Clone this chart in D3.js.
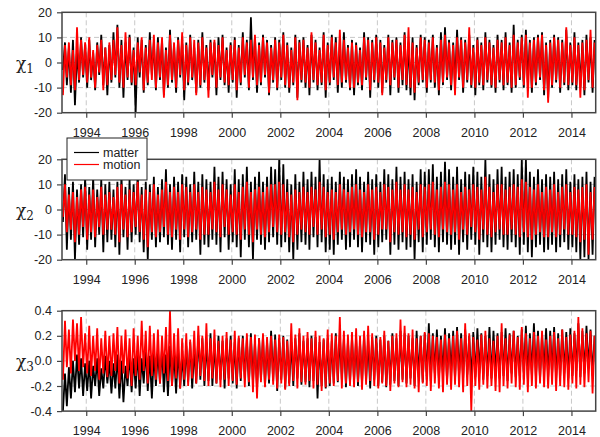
<!DOCTYPE html>
<html lang="en">
<head>
    <meta charset="UTF-8">
    <title>Matter and motion terms</title>
    <script src="https://d3js.org/d3.v7.min.js"></script>
    <style>
        body { margin: 0; background: white; }
        .tick-label { font: 12.5px "Liberation Sans", Arial, sans-serif; fill: #222; }
        .legend text { font: 12.5px "Liberation Sans", Arial, sans-serif; fill: #222; }
        .ylab { font-family: "DejaVu Serif", "Liberation Serif", serif; fill: #222; }
        .grid { stroke: #c8c8c8; stroke-width: 1; stroke-dasharray: 5,3; }
        .frame { fill: none; stroke: #444; stroke-width: 1.5; }
    </style>
</head>
<body>
<svg width="600" height="437"></svg>
<script>
    // monthly values, Jan 1993 .. Dec 2014 (one row per year)
    const chi1Matter = [
        -3, 8, -9, 6, -12, 9, -17, 5, -8, 10, -6, 7,
        -10, 9, -7, 4, -11, 8, -5, 11, -9, 6, -13, 7,
        -8, 12, -6, 15, -10, 9, -14, 8, -7, 11, -9, 6,
        -20, 10, -6, 9, -12, 7, -9, 12, -5, 8, -11, 10,
        -7, 9, -13, 6, -10, 13, -8, 7, -12, 10, -6, 9,
        -15, 8, -9, 11, -7, 6, -12, 9, -10, 12, -8, 7,
        -11, 9, -6, 8, -13, 10, -7, 11, -9, 6, -12, 8,
        -8, 10, -14, 7, -9, 12, -6, 9, -11, 18, -7, 10,
        -12, 8, -9, 11, -6, 9, -13, 7, -8, 10, -11, 9,
        -7, 12, -10, 8, -12, 6, -9, 11, -14, 9, -8, 10,
        -10, 7, -13, 11, -8, 9, -11, 6, -9, 12, -14, 8,
        -9, 11, -7, 10, -12, 8, -10, 12, -8, 7, -11, 9,
        -13, 8, -9, 6, -11, 12, -7, 10, -14, 9, -8, 11,
        -10, 9, -12, 7, -8, 11, -13, 9, -7, 10, -12, 8,
        -9, 12, -11, 8, -13, 10, -15, 7, -9, 11, -8, 10,
        -12, 9, -8, 11, -10, 7, -13, 12, -9, 14, -7, 9,
        -11, 8, -9, 13, -7, 10, -12, 9, -8, 11, -10, 7,
        -13, 10, -9, 8, -11, 12, -8, 9, -10, 7, -12, 11,
        -8, 9, -11, 12, -9, 8, -12, 15, -10, 9, -7, 11,
        -10, 13, -8, 9, -12, 10, -9, 11, -7, 12, -13, 8,
        -14, 9, -10, 11, -8, 10, -12, 9, -9, 13, -11, 8,
        -9, 12, -11, 8, -10, 9, -13, 11, -8, 10, -12, 9
    ];
    const chi1Motion = [
        -13, 7, -6, 8, -9, 5, -11, 14, -7, 9, -5, 8,
        -8, 10, -6, 5, -10, 7, -4, 9, -11, 6, -9, 8,
        -7, 9, -5, 14, -8, 7, -10, 12, -6, 10, -8, 5,
        -9, 8, -4, 10, -11, 6, -8, 9, -7, 11, -10, 8,
        -6, 10, -14, 5, -9, 11, -7, 8, -10, 9, -5, 12,
        -11, 7, -8, 10, -6, 9, -13, 8, -9, 10, -7, 6,
        -14, 8, -5, 9, -10, 7, -6, 10, -8, 5, -9, 7,
        -7, 9, -11, 6, -8, 10, -5, 8, -10, 9, -6, 11,
        -9, 7, -8, 10, -5, 8, -12, 6, -7, 9, -10, 8,
        -6, 11, -9, 7, -10, 5, -8, 10, -15, 8, -7, 9,
        -8, 6, -10, 12, -7, 8, -9, 5, -8, 11, -11, 7,
        -8, 10, -6, 8, -9, 13, -8, 9, -7, 6, -10, 8,
        -10, 7, -8, 5, -9, 10, -6, 9, -11, 8, -7, 10,
        -8, 8, -13, 6, -7, 10, -9, 8, -6, 9, -10, 7,
        -7, 11, -9, 14, -10, 8, -12, 6, -8, 10, -7, 9,
        -10, 8, -7, 10, -8, 6, -11, 9, -8, 11, -6, 8,
        -9, 7, -13, 10, -6, 9, -10, 8, -7, 14, -9, 6,
        -10, 9, -8, 7, -9, 10, -7, 8, -9, 6, -10, 9,
        -7, 8, -9, 10, -8, 7, -10, 11, -9, 8, -6, 10,
        -9, 11, -14, 8, -10, 9, -8, 10, -6, 11, -11, 7,
        -16, 8, -9, 10, -7, 9, -10, 8, -8, 14, -9, 7,
        -8, 10, -9, 7, -14, 8, -11, 9, -7, 13, -10, 8
    ];
    const chi2Matter = [
        -5, 14, -16, 9, -12, 11, -20, 8, -14, 10, -11, 13,
        -16, 9, -12, 13, -15, 8, -10, 12, -17, 10, -13, 11,
        -12, 8, -15, 11, -18, 14, -11, 9, -16, 12, -13, 10,
        -10, 15, -13, 9, -17, 11, -20, 10, -12, 13, -15, 9,
        -13, 12, -11, 16, -14, 10, -16, 13, -12, 11, -17, 14,
        -11, 13, -15, 10, -13, 15, -12, 11, -18, 14, -14, 12,
        -15, 11, -12, 17, -14, 13, -17, 15, -11, 12, -16, 10,
        -13, 16, -15, 12, -19, 14, -12, 17, -15, 11, -20, 13,
        -12, 15, -14, 11, -16, 13, -13, 17, -11, 16, -14, 20,
        -15, 18, -13, 12, -17, 10, -20, 14, -16, 11, -13, 15,
        -14, 12, -16, 15, -11, 13, -15, 20, -13, 14, -17, 12,
        -16, 13, -18, 11, -14, 15, -12, 13, -16, 12, -15, 14,
        -12, 16, -15, 13, -17, 11, -13, 15, -14, 12, -18, 14,
        -15, 11, -13, 16, -12, 14, -18, 12, -14, 17, -16, 13,
        -13, 15, -16, 12, -15, 14, -20, 11, -13, 16, -17, 15,
        -14, 16, -12, 18, -15, 13, -17, 15, -13, 19, -14, 16,
        -16, 13, -14, 17, -18, 12, -13, 15, -16, 14, -12, 17,
        -14, 15, -18, 13, -13, 20, -15, 14, -17, 12, -14, 16,
        -12, 17, -15, 13, -16, 15, -13, 16, -15, 14, -18, 20,
        -14, 20, -17, 15, -19, 13, -15, 16, -14, 12, -17, 14,
        -16, 13, -14, 15, -17, 12, -15, 14, -13, 16, -16, 11,
        -15, 14, -17, 12, -20, 13, -19, 15, -20, 11, -18, 13
    ];
    const chi2Motion = [
        -3, 10, -9, 6, -8, 7, -13, 5, -10, 8, -7, 9,
        -12, 6, -9, 8, -11, 5, -7, 9, -10, 6, -8, 7,
        -8, 5, -10, 9, -13, 10, -8, 6, -11, 8, -9, 7,
        -7, 11, -9, 6, -12, 8, -15, 7, -9, 10, -11, 6,
        -9, 8, -7, 11, -10, 7, -11, 9, -8, 7, -12, 10,
        -8, 9, -11, 7, -9, 10, -8, 7, -12, 9, -10, 8,
        -10, 7, -8, 11, -9, 8, -11, 10, -7, 8, -10, 6,
        -9, 10, -10, 7, -12, 9, -8, 11, -10, 7, -13, 8,
        -8, 9, -10, 7, -11, 9, -9, 10, -7, 10, -9, 11,
        -10, 10, -9, 7, -11, 6, -13, 8, -10, 7, -8, 9,
        -9, 7, -10, 9, -7, 8, -10, 11, -8, 9, -11, 7,
        -10, 8, -12, 7, -9, 10, -8, 8, -10, 7, -9, 9,
        -8, 10, -10, 8, -11, 7, -9, 10, -9, 8, -12, 9,
        -10, 7, -8, 10, -8, 9, -13, 8, -9, 11, -10, 8,
        -9, 10, -11, 8, -10, 9, -12, 7, -8, 10, -11, 9,
        -9, 10, -8, 11, -10, 8, -11, 9, -8, 11, -9, 10,
        -10, 8, -9, 10, -12, 7, -8, 9, -10, 8, -7, 10,
        -9, 9, -12, 8, -8, 13, -10, 9, -11, 7, -9, 10,
        -8, 10, -10, 8, -10, 9, -8, 10, -10, 9, -11, 12,
        -9, 11, -11, 9, -12, 8, -10, 10, -9, 7, -11, 9,
        -11, 8, -9, 10, -11, 7, -10, 9, -8, 10, -10, 7,
        -10, 9, -11, 8, -13, 9, -12, 10, -18, 7, -12, 9
    ];
    const chi3Matter = [
        -0.40, -0.10, -0.36, -0.05, -0.30, 0.00, -0.25, 0.05, -0.22, 0.02, -0.28, -0.02,
        -0.24, 0.00, -0.30, -0.04, -0.20, 0.02, -0.28, -0.06, -0.22, 0.04, -0.18, 0.00,
        -0.26, -0.02, -0.22, 0.05, -0.30, 0.00, -0.33, -0.04, -0.20, 0.06, -0.25, 0.02,
        -0.22, 0.08, -0.28, 0.02, -0.18, 0.10, -0.24, 0.04, -0.30, 0.06, -0.20, 0.08,
        -0.18, 0.10, -0.25, 0.05, -0.28, 0.12, -0.20, 0.06, -0.26, 0.10, -0.22, 0.04,
        -0.20, 0.12, -0.17, 0.15, -0.22, 0.10, -0.18, 0.20, -0.15, 0.18, -0.20, 0.15,
        -0.16, 0.22, -0.20, 0.14, -0.18, 0.20, -0.15, 0.16, -0.22, 0.18, -0.14, 0.20,
        -0.18, 0.15, -0.22, 0.18, -0.16, 0.20, -0.14, 0.17, -0.20, 0.22, -0.17, 0.15,
        -0.22, 0.18, -0.15, 0.20, -0.20, 0.16, -0.18, 0.24, -0.16, 0.21, -0.24, 0.18,
        -0.15, 0.20, -0.22, 0.17, -0.18, 0.15, -0.20, 0.18, -0.14, 0.22, -0.19, 0.16,
        -0.17, 0.18, -0.21, 0.20, -0.16, 0.19, -0.30, 0.15, -0.20, 0.17, -0.22, 0.18,
        -0.20, 0.16, -0.18, 0.22, -0.17, 0.20, -0.15, 0.18, -0.21, 0.16, -0.18, 0.19,
        -0.16, 0.18, -0.20, 0.15, -0.18, 0.21, -0.16, 0.17, -0.22, 0.19, -0.15, 0.20,
        -0.20, 0.17, -0.17, 0.20, -0.21, 0.16, -0.19, 0.22, -0.16, 0.18, -0.20, 0.24,
        -0.15, 0.22, -0.18, 0.20, -0.14, 0.18, -0.20, 0.24, -0.13, 0.20, -0.17, 0.22,
        -0.12, 0.30, -0.16, 0.22, -0.10, 0.25, -0.14, 0.20, -0.12, 0.26, -0.16, 0.22,
        -0.10, 0.24, -0.15, 0.27, -0.12, 0.22, -0.14, 0.25, -0.11, 0.20, -0.16, 0.23,
        -0.13, 0.26, -0.10, 0.22, -0.15, 0.20, -0.12, 0.27, -0.14, 0.24, -0.11, 0.22,
        -0.14, 0.23, -0.12, 0.26, -0.16, 0.22, -0.10, 0.24, -0.13, 0.20, -0.12, 0.25,
        -0.10, 0.28, -0.14, 0.22, -0.11, 0.30, -0.13, 0.24, -0.15, 0.22, -0.10, 0.26,
        -0.13, 0.24, -0.11, 0.27, -0.14, 0.22, -0.12, 0.25, -0.10, 0.23, -0.14, 0.26,
        -0.12, 0.22, -0.08, 0.30, -0.13, 0.24, -0.10, 0.28, -0.06, 0.25, -0.12, 0.20
    ];
    const chi3Motion = [
        -0.15, 0.32, -0.05, 0.25, -0.10, 0.33, 0.00, 0.30, -0.08, 0.35, -0.05, 0.22,
        -0.10, 0.28, -0.12, 0.20, -0.08, 0.26, -0.15, 0.18, -0.10, 0.24, -0.13, 0.20,
        -0.12, 0.22, -0.08, 0.27, -0.18, 0.20, -0.10, 0.25, -0.14, 0.18, -0.20, 0.26,
        -0.12, 0.20, -0.15, 0.32, -0.08, 0.24, -0.18, 0.28, -0.12, 0.22, -0.15, 0.25,
        -0.18, 0.20, -0.10, 0.27, -0.16, 0.40, -0.20, 0.22, -0.14, 0.26, -0.22, 0.18,
        -0.15, 0.22, -0.20, 0.17, -0.14, 0.24, -0.18, 0.28, -0.12, 0.20, -0.16, 0.30,
        -0.20, 0.18, -0.14, 0.25, -0.18, 0.16, -0.21, 0.20, -0.15, 0.23, -0.20, 0.17,
        -0.16, 0.24, -0.19, 0.20, -0.14, 0.18, -0.21, 0.22, -0.17, 0.19, -0.25, 0.21,
        -0.30, 0.18, -0.17, 0.22, -0.21, 0.19, -0.15, 0.20, -0.19, 0.17, -0.22, 0.21,
        -0.18, 0.19, -0.23, 0.16, -0.20, 0.30, -0.16, 0.21, -0.22, 0.26, -0.17, 0.20,
        -0.19, 0.23, -0.16, 0.18, -0.22, 0.24, -0.19, 0.20, -0.24, 0.18, -0.21, 0.25,
        -0.18, 0.22, -0.20, 0.20, -0.16, 0.35, -0.22, 0.24, -0.18, 0.21, -0.20, 0.23,
        -0.21, 0.26, -0.17, 0.20, -0.23, 0.24, -0.19, 0.28, -0.16, 0.22, -0.20, 0.18,
        -0.22, 0.19, -0.18, 0.24, -0.20, 0.16, -0.24, 0.20, -0.18, 0.22, -0.21, 0.33,
        -0.17, 0.28, -0.21, 0.22, -0.19, 0.25, -0.22, 0.18, -0.25, 0.20, -0.18, 0.23,
        -0.20, 0.22, -0.24, 0.20, -0.18, 0.19, -0.22, 0.17, -0.25, 0.21, -0.19, 0.18,
        -0.23, 0.20, -0.19, 0.24, -0.21, 0.18, -0.25, 0.30, -0.20, 0.22, -0.40, 0.19,
        -0.20, 0.17, -0.23, 0.21, -0.19, 0.24, -0.22, 0.18, -0.20, 0.16, -0.24, 0.20,
        -0.25, 0.30, -0.20, 0.18, -0.22, 0.21, -0.18, 0.24, -0.21, 0.19, -0.23, 0.27,
        -0.19, 0.22, -0.25, 0.18, -0.20, 0.23, -0.22, 0.20, -0.18, 0.24, -0.21, 0.17,
        -0.22, 0.20, -0.19, 0.23, -0.24, 0.18, -0.20, 0.25, -0.21, 0.19, -0.23, 0.21,
        -0.18, 0.24, -0.22, 0.35, -0.19, 0.26, -0.21, 0.22, -0.17, 0.24, -0.26, 0.20
    ];

    const yearTicks = [1994, 1996, 1998, 2000, 2002, 2004, 2006, 2008, 2010, 2012, 2014];
    const chiTicks = [-20, -10, 0, 10, 20];
    const chi3Ticks = [-0.4, -0.2, 0.0, 0.2, 0.4];
    const seriesNames = ["matter", "motion"];
    const seriesColors = ["#000000", "#ff0000"];

    const svg = d3.select("svg");

    const left = 62, right = 595.7, panelH = 100.4;
    const panelTops = [12.3, 159.3, 310.7];

    const x = d3.scaleTime()
        .domain([new Date(1993, 0, 1), new Date(2015, 0, 1)])
        .range([left, right]);

    const panels = [
        { sub: "1", matter: chi1Matter, motion: chi1Motion, ticks: chiTicks, fmt: d => String(d) },
        { sub: "2", matter: chi2Matter, motion: chi2Motion, ticks: chiTicks, fmt: d => String(d) },
        { sub: "3", matter: chi3Matter, motion: chi3Motion, ticks: chi3Ticks, fmt: d => d.toFixed(1) }
    ];

    panels.forEach((p, k) => {
        const top = panelTops[k];
        const y = d3.scaleLinear()
            .domain([p.ticks[0], p.ticks[p.ticks.length - 1]])
            .range([top + panelH, top]);

        const g = svg.append("g");

        // grid
        g.selectAll(".vgrid")
            .data(yearTicks)
            .enter().append("line")
            .attr("class", "grid")
            .attr("x1", d => x(new Date(d, 0, 1)))
            .attr("x2", d => x(new Date(d, 0, 1)))
            .attr("y1", top)
            .attr("y2", top + panelH);
        g.selectAll(".hgrid")
            .data(p.ticks.slice(1, -1))
            .enter().append("line")
            .attr("class", "grid")
            .attr("x1", left)
            .attr("x2", right)
            .attr("y1", d => y(d))
            .attr("y2", d => y(d));

        // clip
        svg.append("clipPath")
            .attr("id", "clip" + k)
            .append("rect")
            .attr("x", left)
            .attr("y", top)
            .attr("width", right - left)
            .attr("height", panelH);

        const line = d3.line()
            .x((d, i) => x(new Date(1993, i, 15)))
            .y(d => y(d));

        [p.matter, p.motion].forEach((vals, j) => {
            g.append("path")
                .datum(vals)
                .attr("clip-path", `url(#clip${k})`)
                .attr("fill", "none")
                .attr("stroke", seriesColors[j])
                .attr("stroke-width", 1.8)
                .attr("stroke-linejoin", "bevel")
                .attr("d", line);
        });

        // axes
        const xAxis = d3.axisBottom(x)
            .tickValues(yearTicks.map(d => new Date(d, 0, 1)))
            .tickFormat(d3.timeFormat("%Y"))
            .tickSize(5)
            .tickPadding(10);
        const xa = g.append("g")
            .attr("transform", `translate(0,${top + panelH})`)
            .call(xAxis);
        const yAxis = d3.axisLeft(y)
            .tickValues(p.ticks)
            .tickFormat(p.fmt)
            .tickSize(5)
            .tickPadding(5);
        const ya = g.append("g")
            .attr("transform", `translate(${left},0)`)
            .call(yAxis);
        [xa, ya].forEach(a => {
            a.select(".domain").remove();
            a.selectAll(".tick line").attr("stroke", "#444").attr("stroke-width", 1.2);
            a.selectAll(".tick text").attr("class", "tick-label").attr("fill", null);
            a.attr("font-family", null).attr("font-size", null);
        });

        g.append("rect")
            .attr("class", "frame")
            .attr("x", left)
            .attr("y", top)
            .attr("width", right - left)
            .attr("height", panelH);

        // y label
        const lab = svg.append("text")
            .attr("class", "ylab")
            .attr("x", 16)
            .attr("y", top + panelH / 2 + 6);
        lab.append("tspan").attr("font-size", "17px").text("χ");
        lab.append("tspan").attr("font-size", "12px").attr("dy", 4).text(p.sub);
    });

    // legend
    const legend = svg.append("g")
        .attr("class", "legend")
        .attr("transform", "translate(67,138)");
    legend.append("rect")
        .attr("width", 80)
        .attr("height", 42)
        .attr("fill", "white")
        .attr("stroke", "#222")
        .attr("stroke-width", 1);
    legend.selectAll("line")
        .data(seriesNames)
        .enter().append("line")
        .attr("x1", 7)
        .attr("x2", 32)
        .attr("y1", (d, i) => 14.5 + i * 12)
        .attr("y2", (d, i) => 14.5 + i * 12)
        .attr("stroke", (d, i) => seriesColors[i])
        .attr("stroke-width", 1.2);
    legend.selectAll("text")
        .data(seriesNames)
        .enter().append("text")
        .attr("x", 36)
        .attr("y", (d, i) => 19 + i * 12)
        .text(d => d);
</script>
</body>
</html>
